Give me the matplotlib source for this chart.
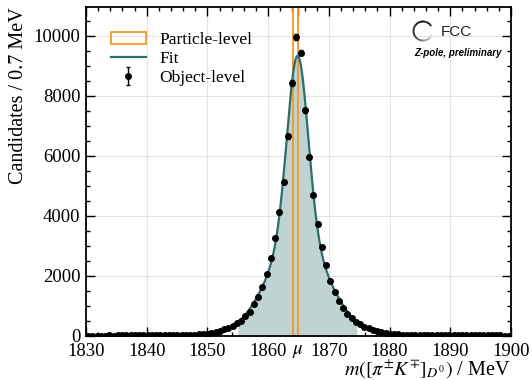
import numpy as np
import matplotlib
matplotlib.use("Agg")
import matplotlib.pyplot as plt
from matplotlib.patches import Arc
from matplotlib.ticker import MultipleLocator

# ---------------- data ----------------
bin_lo = 1830.0
bin_width = 0.7
counts = [
    14, 15, 13, 16, 15, 17, 16, 18, 17, 19, 18, 20, 19, 21, 20, 22, 22, 23, 24, 25,
    25, 28, 31, 35, 40, 46, 52,
    60, 80, 105, 140, 180, 222, 266, 333, 422, 509, 665, 809, 1064, 1286, 1640,
    2051, 2583, 3259, 4113, 5131, 6651, 8424,
    9954, 9434, 7516, 5963, 4689, 3725, 2965, 2361, 1840, 1453, 1164, 931, 732,
    588, 476, 389, 309, 256, 200, 166, 133, 100, 77,
    62, 52, 45, 40, 36, 33, 31, 29, 27, 26, 25, 24, 23, 22, 22, 21, 21, 20, 20,
    19, 19, 18, 18, 18, 17, 17, 16, 16,
]
particle_lo = 1864.15
particle_hi = 1864.85
mu_tick = 1864.84
fill_lo, fill_hi = 1855.0, 1874.6
xticks = [1830, 1840, 1850, 1860, 1870, 1880, 1890, 1900]
yticks = [0, 2000, 4000, 6000, 8000, 10000]

counts = np.array(counts, dtype=float)
centers = bin_lo + bin_width * (np.arange(len(counts)) + 0.5)
errs = np.sqrt(np.maximum(counts, 1.0))

# ---------------- fit (triple Gaussian, LM) ----------------
def model(p, x):
    mu, s1, s2, s3, a1, a2, a3 = p
    d = x - mu
    return (a1 * np.exp(-0.5 * (d / s1) ** 2) + a2 * np.exp(-0.5 * (d / s2) ** 2)
            + a3 * np.exp(-0.5 * (d / s3) ** 2))

def chi2(p):
    return np.sum(((counts - model(p, centers)) / errs) ** 2)

p = np.array([1864.85, 1.6, 3.2, 6.5, 5000.0, 3500.0, 800.0])
lam = 1e-3
for _ in range(400):
    r = (counts - model(p, centers)) / errs
    J = np.empty((len(centers), len(p)))
    for i in range(len(p)):
        h = 1e-5 * max(abs(p[i]), 1.0)
        pp = p.copy(); pp[i] += h
        J[:, i] = (model(pp, centers) - model(p, centers)) / h / errs
    A = J.T @ J
    g = J.T @ r
    dp = np.linalg.solve(A + lam * np.diag(np.diag(A)), g)
    if chi2(p + dp) < chi2(p):
        p = p + dp
        lam /= 3
    else:
        lam *= 3

xf = np.linspace(1830, 1900, 1500)
yf = model(p, xf)

# ---------------- style ----------------
plt.rcParams["font.family"] = ["Liberation Serif", "DejaVu Serif"]
plt.rcParams["mathtext.fontset"] = "stix"

teal = "#2b6e6a"
teal_fill = "#bfd3d2"
orange = "#f7971e"

fig = plt.figure(figsize=(5.32, 3.80), dpi=100)
ax = fig.add_axes([86 / 532, 44 / 380, 425 / 532, 329 / 380])

ax.grid(True, which="major", color="#e3e3e3", linewidth=0.8, zorder=0)
ax.set_axisbelow(True)

m = (xf >= fill_lo) & (xf <= fill_hi)
ax.fill_between(xf[m], 0, yf[m], color=teal_fill, linewidth=0, zorder=1)
ax.axvspan(particle_lo, particle_hi, facecolor="none", edgecolor=orange,
           linewidth=1.3, zorder=2, label="Particle-level")
ax.plot(xf, yf, color=teal, linewidth=1.6, zorder=3, label="Fit")
ax.errorbar(centers, counts, yerr=errs, fmt="o", color="black", ms=4.0,
            elinewidth=1.0, capsize=1.5, zorder=4, label="Object-level")

ax.set_xlim(1830, 1900)
ax.set_ylim(0, 10950)

ax.set_xticks(xticks + [mu_tick])
ax.set_xticklabels([str(t) for t in xticks] + [r"$\mu$"])
ax.set_yticks(yticks)
ax.xaxis.set_minor_locator(MultipleLocator(2))
ax.yaxis.set_minor_locator(MultipleLocator(500))
ax.tick_params(which="both", direction="in", top=True, right=True,
               labelsize=13.5, width=1.0)
ax.tick_params(which="major", length=6.5)
ax.tick_params(which="minor", length=3.2)
ax.tick_params(axis="x", pad=5)
ax.tick_params(axis="y", pad=4)
for s in ax.spines.values():
    s.set_linewidth(1.3)

ax.set_xlabel(r"$m([\pi^{\pm}K^{\mp}]_{D^0})$ / MeV", fontsize=14.5, loc="right",
              labelpad=-1)
ax.set_ylabel("Candidates / 0.7 MeV", fontsize=14.5, loc="top", labelpad=4)

handles, labels = ax.get_legend_handles_labels()
order = [labels.index(l) for l in ["Particle-level", "Fit", "Object-level"]]
ax.legend([handles[i] for i in order], [labels[i] for i in order],
          loc="upper left", bbox_to_anchor=(0.03, 0.96), frameon=False,
          fontsize=12.5, handlelength=2.0, handletextpad=0.8, labelspacing=0.15,
          borderaxespad=0.3)

# FCC logo
cx, cy, rad = 423 / 532, 1 - 31 / 380, 9.5
nseg = 60
a0, a1 = 40.0, 335.0
for i in range(nseg):
    t0 = a0 + (a1 - a0) * i / nseg
    t1 = a0 + (a1 - a0) * (i + 1) / nseg + 0.5
    frac = i / (nseg - 1)
    g = 0.0 if frac < 0.55 else min(0.9, (frac - 0.55) / 0.45 * 0.9)
    fig.patches.append(Arc((cx, cy), 2 * rad / 532, 2 * rad / 380, theta1=t0,
                           theta2=t1, color=str(g), linewidth=1.3,
                           transform=fig.transFigure))
fig.text(441 / 532, 1 - 32 / 380, "FCC", fontsize=11,
         family=["Liberation Sans", "DejaVu Sans"], va="center", ha="left",
         color="#222222")
fig.text(502 / 532, 1 - 53 / 380, "Z-pole, preliminary", fontsize=7,
         family=["Liberation Sans", "DejaVu Sans"], weight="bold",
         style="italic", va="center", ha="right")

fig.savefig("out.png", dpi=100)
